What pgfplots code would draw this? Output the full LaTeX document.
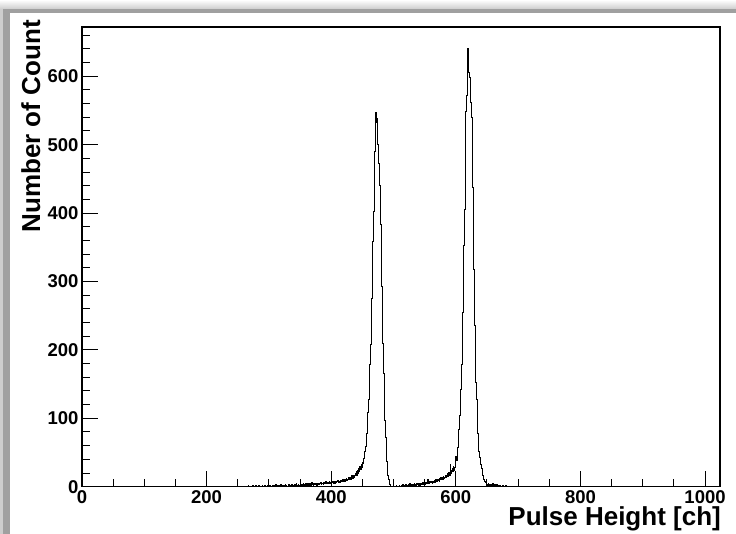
\documentclass[border=0pt]{standalone}
\usepackage{pgfplots}
\pgfplotsset{compat=1.18}
\usepackage{fontspec}
\setmainfont{Liberation Sans}
\definecolor{shadowgray}{RGB}{160,160,160}
\definecolor{lightshadow}{RGB}{205,205,205}
\begin{document}
\begin{tikzpicture}[x=1pt,y=1pt]
\useasboundingbox (0,0) rectangle (736,534);
\fill[white] (0,0) rectangle (736,534);
\shade[top color=white, bottom color=lightshadow] (0,534) rectangle (736,525);
\fill[lightshadow] (0,0) rectangle (3,525);
\fill[shadowgray] (3,0) rectangle (10,525);
\fill[shadowgray] (3,521) rectangle (736,525);
\fill[white] (10,0) rectangle (736,521);
\begin{axis}[
  at={(82pt,47.3pt)}, anchor=south west,
  scale only axis, width=638pt, height=459.7pt,
  xmin=0, xmax=1024, ymin=0, ymax=672,
  xtick={0,200,...,1000}, minor xtick={50,100,...,1000},
  ytick={0,100,...,600}, minor ytick={20,40,...,660},
  tick align=inside, xtick pos=bottom, ytick pos=left,
  major tick length=16pt, minor tick length=8pt,
  axis line style={line width=1.3pt, black},
  every tick/.style={line width=1pt, black},
  tick label style={font=\fontsize{18.5}{19}\selectfont\bfseries},
  /pgf/number format/assume math mode=true,
  /pgf/number format/1000 sep={},
  xlabel={Pulse Height [ch]},
  ylabel={Number of Count},
  label style={font=\fontsize{26}{27}\selectfont\bfseries},
  xlabel style={at={(axis description cs:1.0016,-0.0855)}, anchor=base east, inner sep=0pt},
  ylabel style={at={(axis description cs:-0.0658,1.0152)}, anchor=base east, rotate=0, inner sep=0pt},
]
\addplot[const plot, black, line width=1pt] coordinates {
(0,0)
(262,1)(263,0)(264,1)(265,0)(266,0)(267,2)(268,1)(269,0)(270,1)(271,1)
(272,0)(273,0)(274,2)(275,1)(276,0)(277,1)(278,0)(279,2)(280,1)(281,1)
(282,0)(283,1)(284,2)(285,0)(286,1)(287,1)(288,0)(289,2)(290,1)(291,0)
(292,1)(293,2)(294,1)(295,0)(296,1)(297,1)(298,2)(299,0)
(300,1)(301,2)(302,0)(303,1)(304,1)(305,2)(306,1)(307,0)(308,2)(309,1)
(310,1)(311,3)(312,1)(313,2)(314,0)(315,1)(316,2)(317,1)(318,1)(319,3)
(320,2)(321,1)(322,0)(323,2)(324,1)(325,2)(326,3)(327,1)(328,2)(329,1)
(330,0)(331,2)(332,3)(333,1)(334,2)(335,2)(336,1)(337,3)(338,2)(339,1)
(340,2)(341,3)(342,1)(343,2)(344,4)(345,2)(346,1)(347,3)(348,2)(349,2)
(350,4)(351,3)(352,1)(353,2)(354,3)(355,5)(356,2)(357,3)(358,2)(359,4)
(360,3)(361,2)(362,5)(363,3)(364,2)(365,4)(366,3)(367,2)(368,4)(369,6)
(370,3)(371,2)(372,4)(373,3)(374,5)(375,3)(376,4)(377,2)(378,5)(379,4)
(380,3)(381,5)(382,4)(383,6)(384,3)(385,4)(386,5)(387,3)(388,6)(389,4)
(390,5)(391,7)(392,4)(393,5)(394,6)(395,4)(396,5)(397,7)(398,5)(399,6)
(400,4)(401,6)(402,8)(403,5)(404,6)(405,7)(406,5)(407,8)(408,6)(409,7)
(410,9)(411,6)(412,7)(413,8)(414,6)(415,9)(416,7)(417,8)(418,10)(419,7)
(420,9)(421,11)(422,8)(423,10)(424,12)(425,9)(426,11)(427,13)(428,10)(429,12)
(430,14)(431,11)(432,13)(433,16)(434,12)(435,15)(436,17)(437,14)(438,16)(439,19)
(440,22)(441,17)(442,24)(443,20)(444,27)(445,22)(446,29)(447,25)(448,33)(449,28)
(450,36)(451,34)(452,41)(453,46)(454,51)(455,59)(456,66)(457,78)(458,92)(459,108)
(460,127)(461,150)(462,178)(463,208)(464,240)(465,275)(466,316)(467,358)(468,402)(469,446)
(470,490)(471,547)(472,532)(473,538)(474,506)(475,500)(476,472)(477,448)(478,440)(479,384)
(480,335)(481,292)(482,251)(483,210)(484,166)(485,130)(486,97)(487,72)(488,53)(489,37)
(490,25)(491,16)(492,10)(493,6)(494,3)(495,1)(496,0)(497,0)
(498,0)(499,1)(500,0)(501,0)(502,1)(503,0)(504,2)(505,1)(506,0)(507,1)
(508,1)(509,2)(510,0)(511,1)(512,2)(513,1)(514,1)(515,3)(516,1)(517,2)
(518,0)(519,2)(520,3)(521,1)(522,2)(523,1)(524,3)(525,2)(526,4)(527,1)
(528,2)(529,3)(530,2)(531,1)(532,3)(533,4)(534,2)(535,3)(536,2)(537,4)
(538,3)(539,5)(540,2)(541,3)(542,4)(543,2)(544,5)(545,3)(546,4)(547,6)
(548,3)(549,4)(550,5)(551,3)(552,6)(553,4)(554,5)(555,11)(556,4)(557,6)
(558,8)(559,6)
(560,6)(561,7)(562,5)(563,8)(564,6)(565,9)(566,7)(567,6)(568,10)(569,8)
(570,7)(571,11)(572,9)(573,8)(574,12)(575,10)(576,14)(577,11)(578,13)(579,10)
(580,15)(581,12)(582,14)(583,17)(584,13)(585,16)(586,19)(587,15)(588,18)(589,21)
(590,17)(591,32)(592,20)(593,23)(594,26)(595,22)
(596,29)(597,24)(598,28)(599,34)(600,44)(601,39)(602,47)(603,58)(604,66)(605,84)
(606,104)(607,128)(608,142)(609,178)(610,205)(611,255)(612,300)(613,352)(614,405)(615,470)
(616,548)(617,572)(618,578)(619,641)(620,612)(621,606)(622,598)(623,588)(624,562)(625,540)
(626,485)(627,438)(628,398)(629,318)(630,236)(631,181)(632,152)(633,127)(634,101)(635,78)
(636,57)(637,51)(638,43)(639,39)(640,33)(641,27)(642,20)(643,17)(644,12)(645,10)
(646,8)(647,7)(648,6)(649,5)(650,3)
(651,2)(652,4)(653,1)(654,3)(655,2)(656,3)(657,1)(658,2)(659,4)(660,2)
(661,1)(662,3)(663,2)(664,1)(665,2)(666,3)(667,1)(668,0)(669,2)(670,1)
(671,2)(672,1)(673,0)(674,1)(675,2)(676,1)(677,0)(678,1)(679,1)(680,2)
(681,0)(682,1)(683,0)(684,1)(685,1)(686,0)(687,1)(688,0)(689,0)(690,1)
(691,0)(692,0)(1024,0)
};
\end{axis}
\end{tikzpicture}
\end{document}
